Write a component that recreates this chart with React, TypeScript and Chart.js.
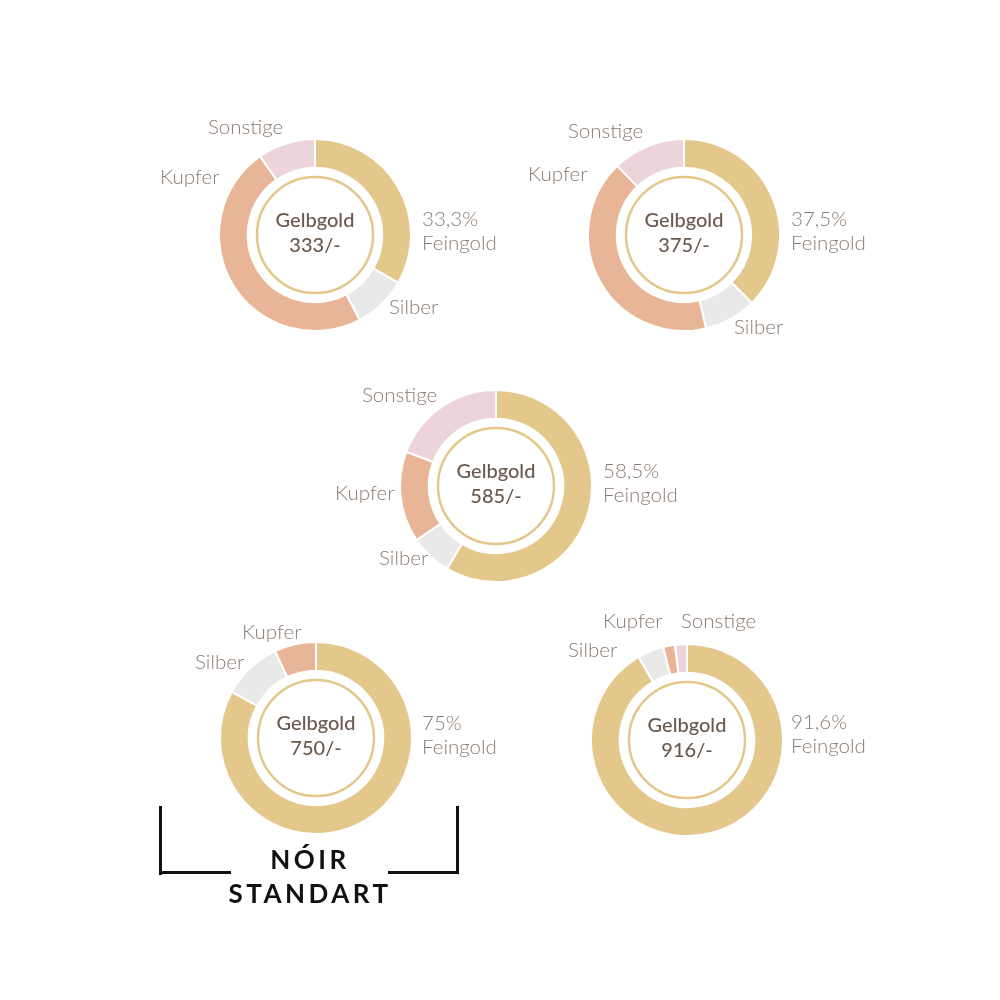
import React, { useEffect, useRef } from 'react';
import { Chart, registerables } from 'chart.js';

Chart.register(...registerables);

const alloys = ['333/-', '375/-', '585/-', '750/-', '916/-'];
const feingoldLabels = ['33,3%', '37,5%', '58,5%', '75%', '91,6%'];
const segmentNames = ['Feingold', 'Silber', 'Kupfer', 'Sonstige'];
const gold = [33.3, 37.5, 58.5, 83, 91.6];
const silber = [9, 8.8, 7, 10, 4.4];
const kupfer = [48, 41.5, 15.3, 7, 2];
const sonstige = [9.7, 12.2, 19.2, 0, 2];

const COLORS = ['#e3c78b', '#e9e9e9', '#e8b597', '#ecd4da'];
const LABEL_COLOR = '#8b7c73';
const CENTER_COLOR = '#6a594f';

// layout: chart centres and label offsets (relative to centre, left-aligned)
const centers = [
  [315, 235],
  [684, 235],
  [496, 486],
  [316, 738],
  [687, 740],
];
const labelOffsets: Record<string, [number, number]>[] = [
  { Feingold: [107, -16], Silber: [74, 72], Kupfer: [-155, -58], Sonstige: [-107, -108] },
  { Feingold: [107, -16], Silber: [50, 92], Kupfer: [-156, -61], Sonstige: [-116, -104] },
  { Feingold: [107, -15], Silber: [-117, 72], Kupfer: [-161, 7], Sonstige: [-134, -91] },
  { Feingold: [106, -15], Silber: [-121, -76], Kupfer: [-74, -106] },
  { Feingold: [104, -18], Silber: [-119, -90], Kupfer: [-84, -119], Sonstige: [-6, -119] },
];

const BOX_W = 400;
const BOX_H = 280;

const AlloyDonut: React.FC<{ idx: number }> = ({ idx }) => {
  const canvasRef = useRef<HTMLCanvasElement>(null);

  useEffect(() => {
    if (!canvasRef.current) return;
    const values = [gold[idx], silber[idx], kupfer[idx], sonstige[idx]];
    const offsets = labelOffsets[idx];

    const overlay = {
      id: 'overlay',
      afterDraw(chart: Chart) {
        const ctx = chart.ctx;
        const arc: any = chart.getDatasetMeta(0).data[0];
        const cx = arc.x;
        const cy = arc.y;
        ctx.save();
        // thin inner ring
        ctx.beginPath();
        ctx.arc(cx, cy, 58, 0, Math.PI * 2);
        ctx.strokeStyle = '#e3c78b';
        ctx.lineWidth = 2.5;
        ctx.stroke();
        // centre text
        ctx.fillStyle = CENTER_COLOR;
        ctx.font = '500 20px Lato';
        ctx.textAlign = 'center';
        ctx.textBaseline = 'middle';
        ctx.fillText('Gelbgold', cx, cy - 14);
        ctx.fillText(alloys[idx], cx, cy + 11);
        // segment labels
        ctx.fillStyle = LABEL_COLOR;
        ctx.font = '300 20.5px Lato';
        ctx.textAlign = 'left';
        segmentNames.forEach((name) => {
          const off = offsets[name];
          if (!off) return;
          if (name === 'Feingold') {
            ctx.fillText(feingoldLabels[idx], cx + off[0], cy + off[1]);
            ctx.fillText('Feingold', cx + off[0], cy + off[1] + 24);
          } else {
            ctx.fillText(name, cx + off[0], cy + off[1]);
          }
        });
        ctx.restore();
      },
    };

    const chart = new Chart(canvasRef.current, {
      type: 'doughnut',
      data: {
        labels: segmentNames,
        datasets: [
          {
            data: values,
            backgroundColor: COLORS,
            borderColor: '#ffffff',
            borderWidth: 2,
            hoverOffset: 0,
          },
        ],
      },
      options: {
        responsive: false,
        animation: false,
        radius: 96,
        cutout: '70%',
        events: [],
        plugins: {
          legend: { display: false },
          tooltip: { enabled: false },
        },
      },
      plugins: [overlay],
    });

    return () => {
      chart.destroy();
    };
  }, [idx]);

  const [cx, cy] = centers[idx];
  return (
    <canvas
      ref={canvasRef}
      width={BOX_W}
      height={BOX_H}
      style={{
        position: 'absolute',
        left: cx - BOX_W / 2,
        top: cy - BOX_H / 2,
        width: BOX_W,
        height: BOX_H,
      }}
    />
  );
};

const line = (left: number, top: number, width: number, height: number) => (
  <div style={{ position: 'absolute', left, top, width, height, background: '#111' }} />
);

const App: React.FC = () => {
  return (
    <div
      style={{
        position: 'absolute',
        left: 0,
        top: 0,
        width: 1000,
        height: 1000,
        background: '#ffffff',
        overflow: 'hidden',
      }}
    >
      {alloys.map((_, i) => (
        <AlloyDonut key={i} idx={i} />
      ))}
      {/* bracket */}
      {line(159, 806, 3, 69)}
      {line(159, 871, 72, 3)}
      {line(456, 806, 3, 68)}
      {line(388, 871, 71, 3)}
      <div
        style={{
          position: 'absolute',
          left: 160,
          width: 300,
          top: 842,
          textAlign: 'center',
          fontFamily: 'Lato, sans-serif',
          fontWeight: 700,
          fontSize: 26,
          letterSpacing: 3.5,
          lineHeight: '34px',
          color: '#111',
        }}
      >
        <div>NÓIR</div>
        <div>STANDART</div>
      </div>
    </div>
  );
};

export default App;
